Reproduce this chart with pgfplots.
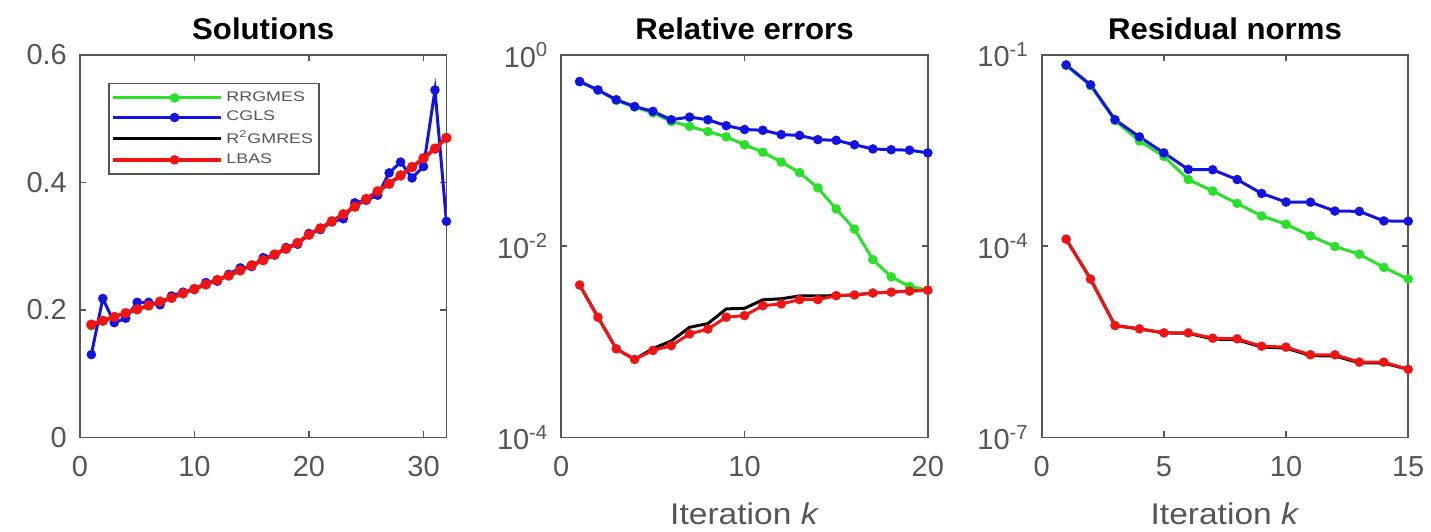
\documentclass[border=0pt]{standalone}
\usepackage{fontspec}
\setmainfont{Liberation Sans}
\newfontfamily\titlefont[FakeStretch=1.04]{Liberation Sans}
\newfontfamily\widefont[FakeStretch=1.12]{Liberation Sans}
\newfontfamily\legfont[FakeStretch=1.28]{Liberation Sans}
\usepackage{pgfplots}
\pgfplotsset{compat=1.18}

\definecolor{mgreen}{RGB}{40,225,40}
\definecolor{mblue}{RGB}{20,20,225}
\definecolor{mred}{RGB}{240,20,20}
\definecolor{axgray}{RGB}{85,85,85}

\pgfplotsset{
  panel/.style={
    scale only axis, width=183.5pt, height=191.5pt,
    axis line style={axgray, line width=0.9pt},
    tick style={axgray, line width=0.7pt},
    tick align=inside, tick pos=both,
    major tick length=3pt,
    minor tick num=0,
    ticklabel style={font=\fontsize{14.5}{16}\selectfont, text=axgray},
    xticklabel style={yshift=-6pt},
    yticklabel style={xshift=-3pt},
    /pgf/number format/assume math mode=true,
    title style={font=\titlefont\bfseries\fontsize{15}{17}\selectfont, yshift=-2pt},
    xlabel style={font=\widefont\fontsize{15}{17}\selectfont, text=axgray, yshift=-6pt},
    every axis plot/.append style={line width=1.5pt, mark size=1.6pt},
  },
  legend image code/.code={
    \path (0pt,0pt) -- (54pt,0pt);
    \draw[line width=1.5pt, mark size=1.6pt, mark repeat=2, mark phase=2, #1]
      plot coordinates {(8pt,0pt) (31pt,0pt) (54pt,0pt)};
  },
}

\begin{document}
\begin{tikzpicture}
\path (-40pt,-45.5pt) rectangle (675.5pt,219pt);

% solutions
\begin{axis}[panel, at={(0pt,0pt)},
  title={Solutions},
  xmin=0, xmax=32, ymin=0, ymax=0.6,
  xtick={0,10,20,30}, ytick={0,0.2,0.4,0.6},
  yticklabel style={/pgf/number format/fixed},
  legend style={at={(14pt,177.6pt)}, anchor=north west, draw=axgray, line width=0.9pt,
    font=\legfont\fontsize{7}{7.5}\selectfont, text=axgray, row sep=-0.6pt,
    inner xsep=1pt, inner ysep=2pt},
  legend cell align=left,
]
\addplot[mgreen, mark=*] coordinates {
(1,0.175) (2,0.183) (3,0.189) (4,0.195) (5,0.201) (6,0.207) (7,0.213) (8,0.219)
(9,0.226) (10,0.233) (11,0.240) (12,0.247) (13,0.254) (14,0.262) (15,0.270) (16,0.278)
(17,0.287) (18,0.296) (19,0.305) (20,0.318) (21,0.328) (22,0.339) (23,0.350) (24,0.362)
(25,0.374) (26,0.386) (27,0.398) (28,0.411) (29,0.424) (30,0.438) (31,0.453) (32,0.470)};
\addlegendentry{RRGMES}
\addplot[mblue, mark=*] coordinates {
(1,0.130) (2,0.218) (3,0.180) (4,0.187) (5,0.212) (6,0.212) (7,0.208) (8,0.222)
(9,0.228) (10,0.232) (11,0.243) (12,0.245) (13,0.256) (14,0.266) (15,0.268) (16,0.282)
(17,0.286) (18,0.298) (19,0.303) (20,0.320) (21,0.326) (22,0.338) (23,0.343) (24,0.368)
(25,0.372) (26,0.380) (27,0.415) (28,0.432) (29,0.407) (30,0.425) (31,0.545) (32,0.339)};
\addlegendentry{CGLS}
\addplot[black] coordinates {
(1,0.177) (2,0.183) (3,0.189) (4,0.195) (5,0.201) (6,0.207) (7,0.213) (8,0.219)
(9,0.226) (10,0.233) (11,0.240) (12,0.247) (13,0.254) (14,0.262) (15,0.270) (16,0.278)
(17,0.287) (18,0.296) (19,0.305) (20,0.318) (21,0.328) (22,0.339) (23,0.350) (24,0.362)
(25,0.374) (26,0.386) (27,0.398) (28,0.411) (29,0.424) (30,0.438) (31,0.453) (32,0.470)};
\addlegendentry{R\textsuperscript{2}GMRES}
\addplot[mred, mark=*, line width=1.9pt] coordinates {
(1,0.177) (2,0.183) (3,0.189) (4,0.195) (5,0.201) (6,0.207) (7,0.213) (8,0.219)
(9,0.226) (10,0.233) (11,0.240) (12,0.247) (13,0.254) (14,0.262) (15,0.270) (16,0.278)
(17,0.287) (18,0.296) (19,0.305) (20,0.318) (21,0.328) (22,0.339) (23,0.350) (24,0.362)
(25,0.374) (26,0.386) (27,0.398) (28,0.411) (29,0.424) (30,0.438) (31,0.453) (32,0.470)};
\addlegendentry{LBAS}
\end{axis}

% relative errors
\begin{axis}[panel, at={(241pt,0pt)},
  title={Relative errors}, xlabel={Iteration \textit{k}},
  ymode=log, xmin=0, xmax=20, ymin=1e-4, ymax=1,
  xtick={0,10,20}, ytick={1e-4,1e-2,1},
  yticklabels={10\textsuperscript{-4},10\textsuperscript{-2},10\textsuperscript{0}},
  yminorticks=false,
]
\addplot[mgreen, mark=*] coordinates {
(1,0.525) (2,0.427) (3,0.335) (4,0.285) (5,0.248) (6,0.202) (7,0.179) (8,0.158)
(9,0.139) (10,0.115) (11,0.0962) (12,0.0759) (13,0.0589) (14,0.0407) (15,0.0245)
(16,0.0151) (17,0.00724) (18,0.00479) (19,0.0038) (20,0.00347)};
\addplot[mblue, mark=*] coordinates {
(1,0.527) (2,0.431) (3,0.340) (4,0.289) (5,0.257) (6,0.210) (7,0.224) (8,0.210)
(9,0.182) (10,0.166) (11,0.163) (12,0.147) (13,0.144) (14,0.130) (15,0.128)
(16,0.115) (17,0.104) (18,0.102) (19,0.101) (20,0.0946)};
\addplot[black] coordinates {
(1,0.00393) (2,0.00181) (3,0.000845) (4,0.000655) (5,0.000851) (6,0.00102) (7,0.00142)
(8,0.00155) (9,0.00221) (10,0.00224) (11,0.00275) (12,0.00282) (13,0.00302) (14,0.00302)
(15,0.00304) (16,0.00309) (17,0.00324) (18,0.00331) (19,0.00339) (20,0.00347)};
\addplot[mred, mark=*] coordinates {
(1,0.00393) (2,0.00181) (3,0.000845) (4,0.000655) (5,0.000813) (6,0.000912) (7,0.00121)
(8,0.00136) (9,0.00181) (10,0.00188) (11,0.00239) (12,0.00249) (13,0.00276) (14,0.00276)
(15,0.00304) (16,0.00309) (17,0.00324) (18,0.00331) (19,0.00339) (20,0.00347)};
\end{axis}

% residual norms
\begin{axis}[panel, at={(481.5pt,0pt)},
  title={Residual norms}, xlabel={Iteration \textit{k}},
  ymode=log, xmin=0, xmax=15, ymin=1e-7, ymax=1e-1,
  xtick={0,5,10,15}, ytick={1e-7,1e-4,1e-1},
  yticklabels={10\textsuperscript{-7},10\textsuperscript{-4},10\textsuperscript{-1}},
  yminorticks=false,
]
\addplot[mgreen, mark=*] coordinates {
(1,0.0684) (2,0.0331) (3,0.00933) (4,0.00447) (5,0.00257) (6,0.00111) (7,0.000733)
(8,0.00047) (9,0.000298) (10,0.000221) (11,0.000145) (12,0.0000989) (13,0.000075)
(14,0.0000465) (15,0.0000305)};
\addplot[mblue, mark=*] coordinates {
(1,0.0698) (2,0.034) (3,0.00964) (4,0.00518) (5,0.00291) (6,0.0016) (7,0.00158)
(8,0.00111) (9,0.000673) (10,0.000493) (11,0.000490) (12,0.000356) (13,0.000352)
(14,0.000249) (15,0.000247)};
\addplot[black] coordinates {
(1,0.000129) (2,0.0000305) (3,5.69e-6) (4,5.05e-6) (5,4.37e-6) (6,4.30e-6) (7,3.50e-6)
(8,3.40e-6) (9,2.62e-6) (10,2.52e-6) (11,1.92e-6) (12,1.90e-6) (13,1.48e-6) (14,1.47e-6)
(15,1.17e-6)};
\addplot[mred, mark=*] coordinates {
(1,0.000129) (2,0.0000305) (3,5.69e-6) (4,5.05e-6) (5,4.37e-6) (6,4.37e-6) (7,3.61e-6)
(8,3.52e-6) (9,2.70e-6) (10,2.61e-6) (11,1.98e-6) (12,1.98e-6) (13,1.52e-6) (14,1.52e-6)
(15,1.17e-6)};
\end{axis}
\end{tikzpicture}
\end{document}
